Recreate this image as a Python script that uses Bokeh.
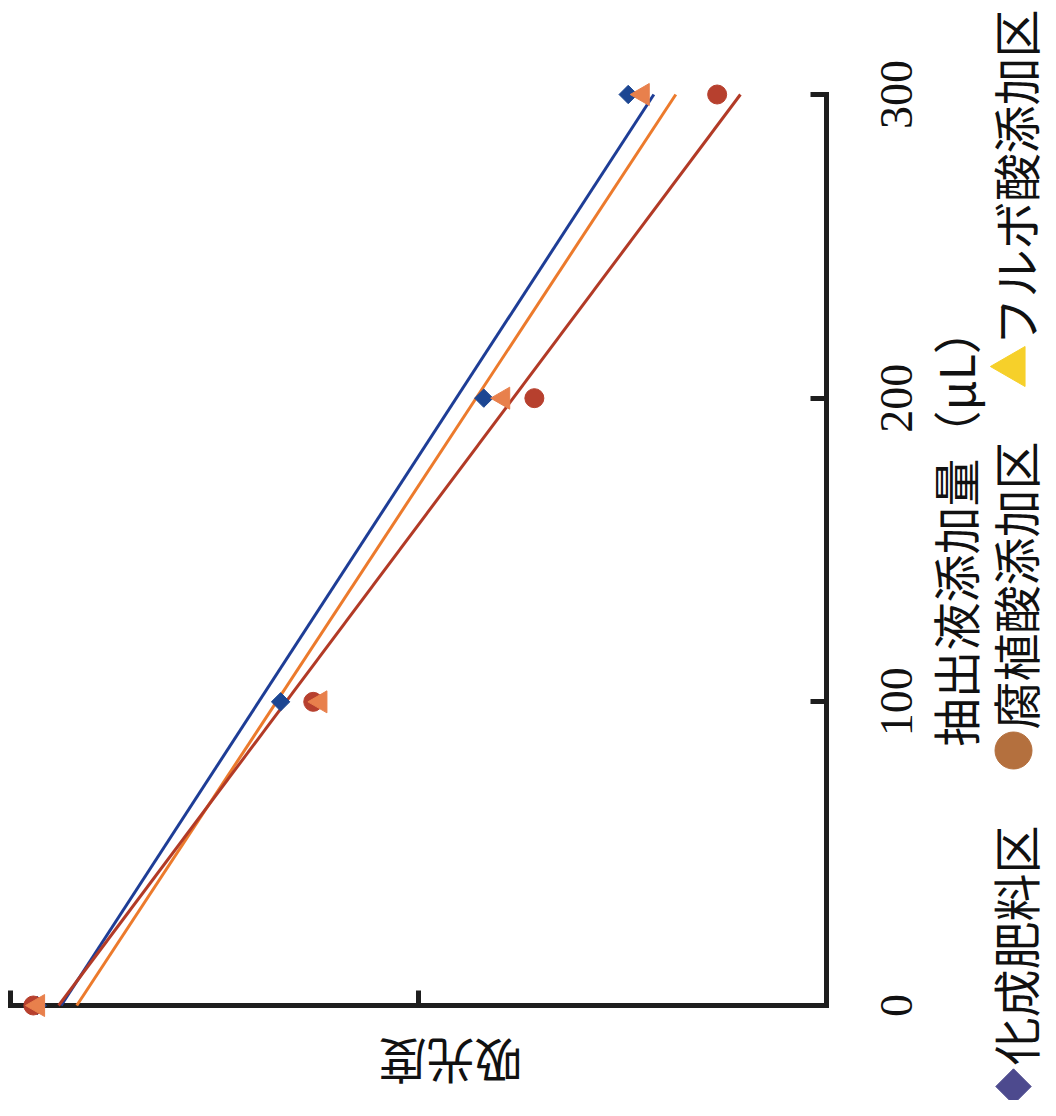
import math
import numpy as np
from bokeh.plotting import figure
from bokeh.models import Range1d, FixedTicker, ColumnDataSource
from bokeh.embed import file_html
from bokeh.resources import INLINE
from bokeh.core.properties import value

# ---------------- data ----------------
volume = [0, 100, 200, 300]                     # 抽出液添加量 (μL)
abs_chemical = [0.967, 0.669, 0.420, 0.243]     # 化成肥料区
abs_humic = [0.972, 0.629, 0.358, 0.134]        # 腐植酸添加区
abs_fulvic = [0.966, 0.620, 0.396, 0.225]       # フルボ酸添加区
series_names = ["化成肥料区", "腐植酸添加区", "フルボ酸添加区"]
volume_ticks = [0, 100, 200, 300]
volume_tick_labels = ["0", "100", "200", "300"]
absorbance_ticks = [0.0, 0.5, 1.0]
volume_title = "抽出液添加量（μL）"
absorbance_title = "吸光度"

CJK = "Noto Sans CJK JP"
SERIF = "Liberation Serif"
AXIS_COLOR = "#1e1e1e"
TEXT_COLOR = "#111111"

# ---------------- layout (pixel geometry of the rotated chart) ----------------
W, H = 1048, 1100
AX_X = 826          # pixel column of absorbance 0 (the volume axis)
AX_Y = 1005         # pixel row of volume 0 (the absorbance axis)
SX = 816.0          # pixels per absorbance unit
SY = 911.0 / 300.0  # pixels per μL


def px2x(px):
    return (AX_X - px) / SX


def py2y(py):
    return (AX_Y - py) / SY


p = figure(width=W, height=H,
           x_range=Range1d(px2x(0), px2x(W)), y_range=Range1d(py2y(H), py2y(0)),
           output_backend="svg", toolbar_location=None,
           x_axis_location="below", y_axis_location="right",
           min_border=0, min_border_left=0, min_border_right=0,
           min_border_top=0, min_border_bottom=0)
p.grid.visible = False
p.outline_line_color = None
p.background_fill_color = "white"
p.border_fill_color = "white"

# absorbance axis (drawn along the bottom, at volume 0)
xa = p.xaxis[0]
xa.fixed_location = 0
xa.bounds = (0, 1.0)
xa.ticker = FixedTicker(ticks=absorbance_ticks)
xa.major_label_overrides = {t: "" for t in absorbance_ticks}
xa.major_tick_in = 15
xa.major_tick_out = 0
xa.minor_tick_line_color = None
xa.axis_line_width = 5
xa.axis_line_cap = "square"
xa.major_tick_line_width = 5
xa.axis_line_color = AXIS_COLOR
xa.major_tick_line_color = AXIS_COLOR
xa.level = "underlay"

# volume axis (drawn on the right, at absorbance 0)
ya = p.yaxis[0]
ya.fixed_location = 0
ya.bounds = (0, 300)
ya.ticker = FixedTicker(ticks=volume_ticks)
ya.major_label_overrides = {t: "" for t in volume_ticks}
ya.major_tick_in = 16
ya.major_tick_out = 0
ya.minor_tick_line_color = None
ya.axis_line_width = 5
ya.axis_line_cap = "square"
ya.major_tick_line_width = 5
ya.axis_line_color = AXIS_COLOR
ya.major_tick_line_color = AXIS_COLOR
ya.level = "underlay"

# rotated tick labels of the volume axis, centred on their ticks
tick_src = ColumnDataSource(dict(x=[px2x(896)] * len(volume_ticks), y=volume_ticks,
                                 t=volume_tick_labels))
p.text(x="x", y="y", text="t", source=tick_src, angle=math.pi / 2,
       text_align="center", text_baseline="middle",
       text_font=value(SERIF), text_font_size="46px", text_color=TEXT_COLOR)

# axis titles (rotated with the chart)
p.text(x=[px2x(450)], y=[py2y(1063)], text=[absorbance_title], angle=math.pi,
       text_align="center", text_baseline="middle",
       text_font=value(CJK), text_font_size="48px", text_color=TEXT_COLOR)
p.text(x=[px2x(953)], y=[py2y(746)], text=[volume_title], angle=math.pi / 2,
       text_align="left", text_baseline="middle",
       text_font=value(CJK), text_font_size="48px", text_color=TEXT_COLOR)

# linear trend lines (least squares fits of each series)
line_colors = ["#1e3d96", "#ec7a2c", "#b23a26"]
all_series = [abs_chemical, abs_fulvic, abs_humic]
vol_ends = [min(volume), max(volume)]
for vals, col in zip(all_series, line_colors):
    slope, intercept = np.polyfit(volume, vals, 1)
    fit = [slope * v + intercept for v in vol_ends]
    p.line(x=fit, y=vol_ends, line_color=col, line_width=3)

# markers
p.scatter(x=abs_chemical, y=volume, marker="square", angle=math.pi / 4,
          size=13, fill_color="#1c4692", line_color="#1c4692")
p.scatter(x=abs_humic, y=volume, marker="circle",
          size=19, fill_color="#b7402e", line_color="#b7402e")
p.scatter(x=abs_fulvic, y=volume, marker="triangle", angle=math.pi / 2,
          size=22, fill_color="#e8804c", line_color="#e8804c")

# ---------------- legend (rotated, along the right edge) ----------------
font_px = 48
marker_span = 38
gap = 56
legend_markers = ["square", "circle", "triangle"]
legend_colors = ["#4d4a8e", "#b4703e", "#f6d02a"]
legend_sizes = [25, 37, 40]
legend_angles = [math.pi / 4, 0.0, math.pi / 2]
legend_px = 1013
cursor = 1105
mk_y, tx_y = [], []
for name in series_names:
    mk_y.append(py2y(cursor - marker_span / 2))
    tx_y.append(py2y(cursor - marker_span - 2))
    cursor = cursor - marker_span - 2 - len(name) * font_px - gap

for i in range(3):
    p.scatter(x=[px2x(legend_px)], y=[mk_y[i]], marker=legend_markers[i],
              angle=legend_angles[i], size=legend_sizes[i],
              fill_color=legend_colors[i], line_color=legend_colors[i])

src = ColumnDataSource(dict(x=[px2x(legend_px)] * 3, y=tx_y, t=series_names))
p.text(x="x", y="y", text="t", source=src, angle=math.pi / 2,
       text_align="left", text_baseline="middle",
       text_font=value(CJK), text_font_size=f"{font_px}px", text_color=TEXT_COLOR)

open("out.html", "w").write(file_html(p, INLINE))
